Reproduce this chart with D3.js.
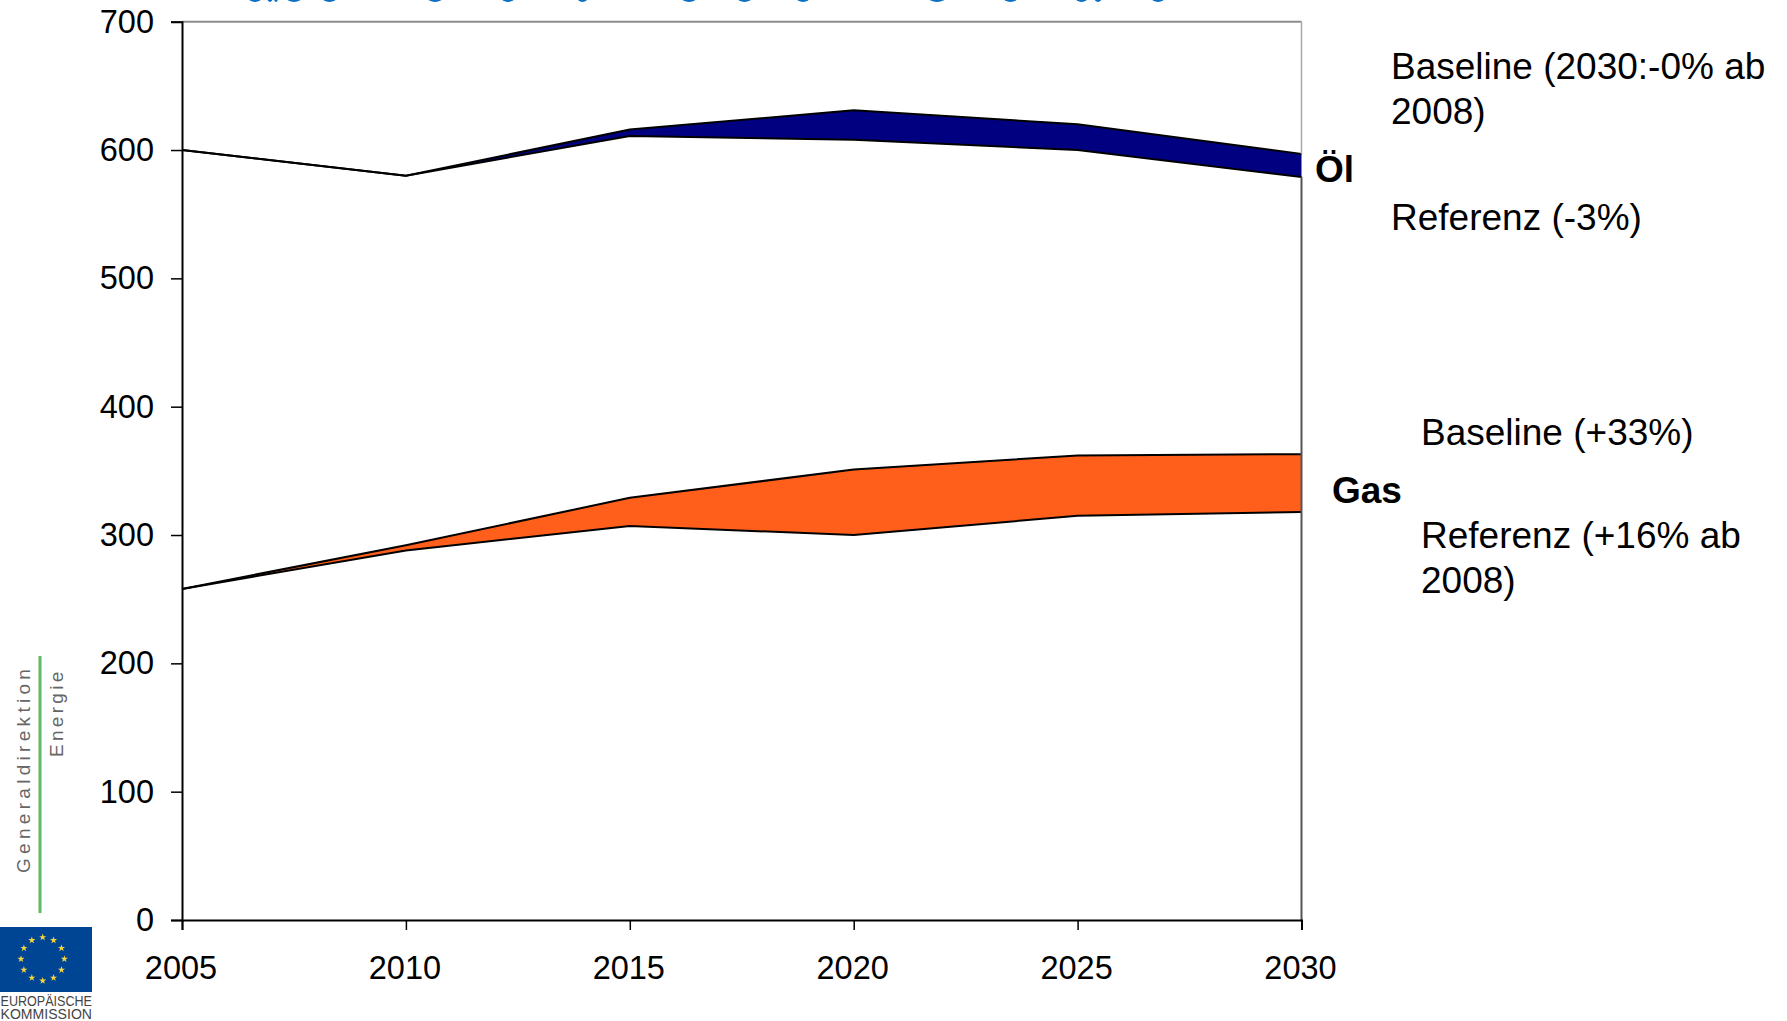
<!DOCTYPE html>
<html>
<head>
<meta charset="utf-8">
<script src="https://cdn.jsdelivr.net/npm/d3@7"></script>
<style>
    html, body { margin: 0; padding: 0; background: #fff; overflow: hidden; }
    text { font-family: "Liberation Sans", Arial, sans-serif; }
</style>
</head>
<body>
<svg id="chart"></svg>
<script>
const years = [2005, 2010, 2015, 2020, 2025, 2030]
const yTicks = [0, 100, 200, 300, 400, 500, 600, 700]

const oilBaseline = [600, 580, 616, 631, 620, 597]
const oilReferenz = [600, 580, 611, 608, 600, 579]
const gasBaseline = [258, 292, 329, 351, 362, 363]
const gasReferenz = [258, 288, 307, 300, 315, 318]

// the slide title is cut off by the crop, only the bottoms of a few letters are left
const titleScraps = [[248, 262], [267, 273], [274, 278], [286, 302], [322, 337], [427, 443], [501, 515], [577, 588],
    [681, 697], [737, 752], [796, 810], [928, 946], [1003, 1018], [1075, 1088], [1094, 1102], [1151, 1165]]

const w = 1787
const h = 1021
const svg = d3.select('#chart').attr('width', w).attr('height', h)

const xScale = d3.scaleLinear().domain([2005, 2030]).range([182, 1301.5])
const yScale = d3.scaleLinear().domain([0, 700]).range([920, 21.7])

// title scraps
svg.selectAll('.scrap')
    .data(titleScraps)
    .enter()
    .append('ellipse')
    .attr('cx', d => (d[0] + d[1]) / 2)
    .attr('cy', -3)
    .attr('rx', d => (d[1] - d[0]) / 2)
    .attr('ry', 5)
    .attr('fill', '#0b6fc4')

// bands
const bands = [
    { base: oilBaseline, ref: oilReferenz, fill: '#000080' },
    { base: gasBaseline, ref: gasReferenz, fill: '#ff5f1a' }
]
const area = d3.area()
    .x((d, i) => xScale(years[i]))
    .y0(d => yScale(d[1]))
    .y1(d => yScale(d[0]))
const line = d3.line()
    .x((d, i) => xScale(years[i]))
    .y(d => yScale(d))

bands.forEach(b => {
    svg.append('path')
        .attr('d', area(b.base.map((v, i) => [v, b.ref[i]])))
        .attr('fill', b.fill)
    svg.append('path').attr('d', line(b.base)).attr('fill', 'none').attr('stroke', '#000').attr('stroke-width', 2)
    svg.append('path').attr('d', line(b.ref)).attr('fill', 'none').attr('stroke', '#000').attr('stroke-width', 2)
})

// plot frame, top and upper right are grey
svg.append('line').attr('x1', xScale(2005)).attr('x2', xScale(2030))
    .attr('y1', yScale(700)).attr('y2', yScale(700))
    .attr('stroke', '#8c8c8c').attr('stroke-width', 2)
svg.append('line').attr('x1', xScale(2030)).attr('x2', xScale(2030))
    .attr('y1', yScale(700)).attr('y2', yScale(oilBaseline[5]))
    .attr('stroke', '#a8a8a8').attr('stroke-width', 1.5)
svg.append('line').attr('x1', xScale(2030)).attr('x2', xScale(2030))
    .attr('y1', yScale(oilReferenz[5])).attr('y2', yScale(0))
    .attr('stroke', '#555').attr('stroke-width', 2)

// axes
const xAxis = d3.axisBottom(xScale).tickValues(years).tickFormat(d3.format('d')).tickSize(10).tickPadding(26)
const yAxis = d3.axisLeft(yScale).tickValues(yTicks).tickSize(11).tickPadding(17)

const gx = svg.append('g').attr('transform', 'translate(0, 920)').call(xAxis)
const gy = svg.append('g').attr('transform', 'translate(182, 0)').call(yAxis)

;[gx, gy].forEach(g => {
    g.selectAll('.domain').attr('stroke', '#000').attr('stroke-width', 2)
    g.selectAll('.tick line').attr('stroke', '#000').attr('stroke-width', 1.5)
    g.selectAll('.tick text')
        .attr('fill', '#000')
        .style('font-family', '"Liberation Sans", Arial, sans-serif')
        .style('font-size', '32.5px')
})
gx.selectAll('.tick text').attr('dx', -1.5)

// labels on the right
const labels = [
    { t: 'Baseline (2030:-0% ab', x: 1391, y: 79 },
    { t: '2008)', x: 1391, y: 124 },
    { t: 'Referenz (-3%)', x: 1391, y: 230 },
    { t: 'Baseline (+33%)', x: 1421, y: 445 },
    { t: 'Referenz (+16% ab', x: 1421, y: 548 },
    { t: '2008)', x: 1421, y: 593 },
    { t: 'Öl', x: 1315, y: 182, bold: true },
    { t: 'Gas', x: 1332, y: 503, bold: true }
]
svg.selectAll('.lab')
    .data(labels)
    .enter()
    .append('text')
    .attr('x', d => d.x)
    .attr('y', d => d.y)
    .attr('font-size', 37)
    .attr('font-weight', d => d.bold ? 'bold' : 'normal')
    .attr('fill', '#000')
    .text(d => d.t)

// logo block bottom left
svg.append('line').attr('x1', 40).attr('x2', 40).attr('y1', 656).attr('y2', 913)
    .attr('stroke', '#62b862').attr('stroke-width', 3)

svg.append('text')
    .attr('transform', 'translate(30, 873) rotate(-90)')
    .attr('font-size', 19)
    .attr('letter-spacing', 4.3)
    .attr('fill', '#666')
    .text('Generaldirektion')
svg.append('text')
    .attr('transform', 'translate(62.5, 757) rotate(-90)')
    .attr('font-size', 19)
    .attr('letter-spacing', 3.3)
    .attr('fill', '#666')
    .text('Energie')

svg.append('rect').attr('x', 0).attr('y', 927).attr('width', 92).attr('height', 65).attr('fill', '#004494')
const star = d3.symbol().type(d3.symbolStar).size(16)
svg.selectAll('.star')
    .data(d3.range(12))
    .enter()
    .append('path')
    .attr('d', star)
    .attr('fill', '#f5d63d')
    .attr('transform', d => {
        const a = d * Math.PI / 6
        return `translate(${42.7 + 21.7 * Math.sin(a)}, ${959 - 21.7 * Math.cos(a)})`
    })

svg.selectAll('.eu')
    .data([['EUROPÄISCHE', 1005.5], ['KOMMISSION', 1019]])
    .enter()
    .append('text')
    .attr('x', 0.5)
    .attr('y', d => d[1])
    .attr('textLength', 91.5)
    .attr('lengthAdjust', 'spacingAndGlyphs')
    .attr('font-size', 14)
    .attr('fill', '#444')
    .text(d => d[0])
</script>
</body>
</html>
